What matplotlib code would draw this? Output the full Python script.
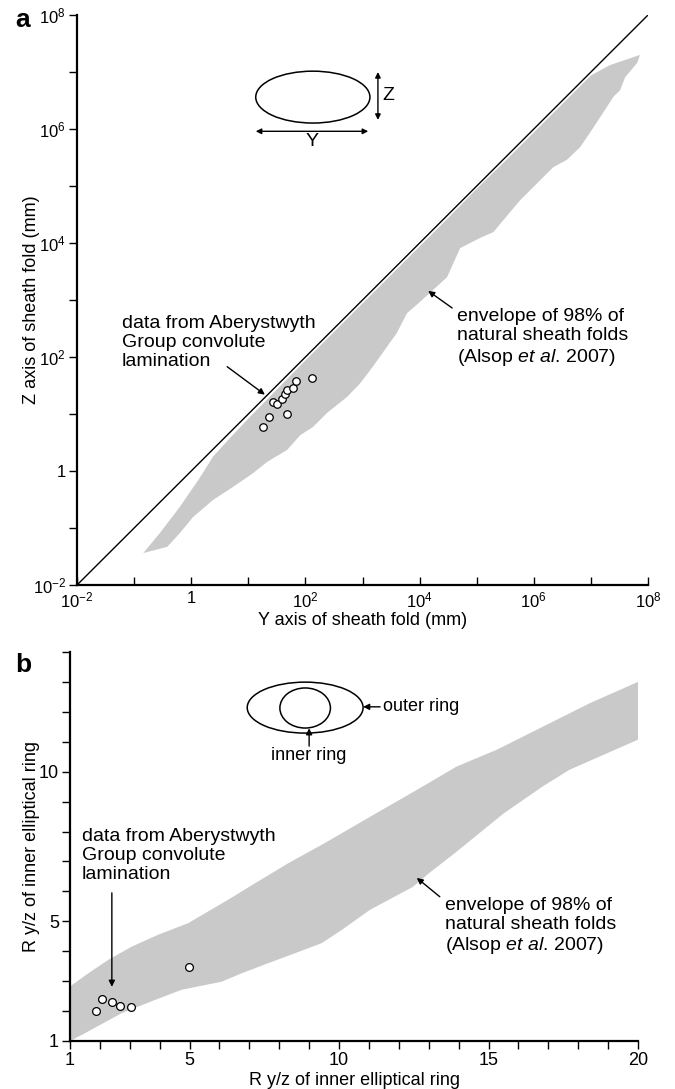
import numpy as np
import matplotlib.pyplot as plt
from matplotlib.patches import Ellipse
from matplotlib.ticker import FixedLocator, FixedFormatter, NullLocator, MultipleLocator

plt.rcParams['font.family'] = ['Liberation Sans', 'DejaVu Sans']
plt.rcParams['mathtext.fontset'] = 'custom'
plt.rcParams['mathtext.rm'] = 'Liberation Sans'
plt.rcParams['mathtext.it'] = 'Liberation Sans:italic'

# --- panel a: sheath fold Y and Z axes (mm) ---
fold_y_mm = [18, 23, 27, 32, 39, 44, 48, 61, 68, 47, 129]
fold_z_mm = [6.0, 9.0, 16, 15, 18, 22, 26, 29, 38, 10, 43]

# envelope of natural sheath folds, log10(mm)
env_a_upper_logx = [-0.84, -0.55, -0.20, 0.15, 0.38, 0.68, 1.0, 1.5, 2.0, 2.5, 3.0,
                    3.5, 4.0, 4.5, 5.0, 5.5, 6.0, 6.5, 7.0, 7.33, 7.86]
env_a_upper_logy = [-1.44, -1.09, -0.63, -0.12, 0.25, 0.58, 0.92, 1.43, 1.94, 2.44, 2.94,
                    3.44, 3.94, 4.44, 4.95, 5.44, 5.94, 6.44, 6.94, 7.12, 7.30]
env_a_lower_logx = [7.86, 7.81, 7.60, 7.51, 7.39, 7.21, 6.98, 6.81, 6.58, 6.34, 6.06,
                    5.76, 5.29, 5.06, 4.71, 4.48, 4.01, 3.78, 3.60, 3.18, 2.96, 2.73,
                    2.38, 2.13, 1.91, 1.68, 1.33, 1.08, 0.73, 0.38, 0.03, -0.20, -0.42, -0.84]
env_a_lower_logy = [7.30, 7.16, 6.91, 6.68, 6.56, 6.28, 5.93, 5.68, 5.46, 5.33, 5.05,
                    4.75, 4.19, 4.09, 3.91, 3.40, 2.97, 2.77, 2.42, 1.83, 1.54, 1.30,
                    1.02, 0.77, 0.63, 0.37, 0.16, -0.04, -0.28, -0.51, -0.81, -1.09, -1.33, -1.44]

decades = list(range(-2, 9))

# --- panel b: R y/z of rings ---
ring_inner = [1.86, 2.06, 2.39, 2.67, 3.04, 4.98]
ring_outer = [2.01, 2.40, 2.29, 2.17, 2.13, 3.48]

env_b_upper_x = [1.0, 1.61, 2.28, 3.06, 3.95, 4.96, 5.52, 6.29, 7.19, 8.30, 9.5,
                 11.26, 12.6, 13.93, 15.27, 16.83, 18.39, 20.0]
env_b_upper_y = [2.82, 3.26, 3.71, 4.15, 4.55, 4.94, 5.27, 5.72, 6.27, 6.94, 7.6,
                 8.62, 9.39, 10.17, 10.73, 11.51, 12.29, 13.0]
env_b_lower_x = [20.0, 17.7, 16.8, 15.5, 13.9, 13.0, 12.47, 11.03, 10.09, 9.42, 8.52,
                 7.63, 6.74, 6.07, 4.73, 3.84, 2.73, 1.5, 1.0]
env_b_lower_y = [11.07, 10.06, 9.5, 8.6, 7.3, 6.6, 6.15, 5.38, 4.71, 4.27, 3.93,
                 3.60, 3.26, 2.98, 2.71, 2.37, 1.93, 1.26, 1.0]

GREY = '#c9c9c9'
FS = 14

fig = plt.figure(figsize=(6.75, 10.89), dpi=100)
ax_a = fig.add_axes([0.1141, 0.4628, 0.8459, 0.5234])
ax_b = fig.add_axes([0.1037, 0.0441, 0.8415, 0.3572])

for ax in (ax_a, ax_b):
    ax.spines['top'].set_visible(False)
    ax.spines['right'].set_visible(False)
    ax.spines['left'].set_linewidth(1.6)
    ax.spines['bottom'].set_linewidth(1.6)

arrow = dict(arrowstyle='-|>', color='k', lw=1.0, mutation_scale=9, shrinkA=0, shrinkB=0)
double_arrow = dict(arrowstyle='<|-|>', color='k', lw=1.0, mutation_scale=8, shrinkA=0, shrinkB=0)

# ---------------- panel a ----------------
ax = ax_a
ax.set_xscale('log')
ax.set_yscale('log')
env_x = 10.0 ** np.array(env_a_upper_logx + env_a_lower_logx)
env_y = 10.0 ** np.array(env_a_upper_logy + env_a_lower_logy)
ax.fill(env_x, env_y, color=GREY, lw=0, zorder=1)
ax.plot([1e-2, 1e8], [1e-2, 1e8], color='k', lw=1.0, zorder=2)
ax.plot(fold_y_mm, fold_z_mm, 'o', ms=5.4, mfc='white', mec='k', mew=0.9, zorder=3)
ax.set_xlim(1e-2, 1e8)
ax.set_ylim(1e-2, 1e8)

ticks = [10.0 ** k for k in decades]
labels = []
for k in decades:
    if k % 2:
        labels.append('')
    elif k == 0:
        labels.append('1')
    else:
        labels.append(r'$\mathregular{10^{%d}}$' % k)
for axis in (ax.xaxis, ax.yaxis):
    axis.set_major_locator(FixedLocator(ticks))
    axis.set_major_formatter(FixedFormatter(labels))
    axis.set_minor_locator(NullLocator())
ax.tick_params(axis='y', direction='out', length=6, width=1, labelsize=12, pad=2)
ax.tick_params(axis='x', direction='in', length=6, width=1, labelsize=12, pad=4)
ax.set_xlabel('Y axis of sheath fold (mm)', fontsize=13, labelpad=1)
ax.set_ylabel('Z axis of sheath fold (mm)', fontsize=13)
ax.yaxis.set_label_coords(-0.064, 0.5)

ax.text(0.0788, 0.426, 'data from Aberystwyth\nGroup convolute\nlamination',
        transform=ax.transAxes, fontsize=FS, va='center', ha='left', linespacing=1.15)
ax.annotate('', xy=(10 ** 1.29, 10 ** 1.34), xytext=(10 ** 0.63, 10 ** 1.83), arrowprops=arrow)
ax.text(0.6655, 0.4333, 'envelope of 98% of\nnatural sheath folds\n(Alsop $\\it{et\\ al}$. 2007)',
        transform=ax.transAxes, fontsize=FS, va='center', ha='left', linespacing=1.15)
ax.annotate('', xy=(10 ** 4.15, 10 ** 3.16), xytext=(10 ** 4.57, 10 ** 2.86), arrowprops=arrow)

# inset sketch
ax.add_patch(Ellipse((0.413, 0.856), 0.200, 0.091, transform=ax.transAxes,
                     fill=False, ec='k', lw=1.1))
ax.annotate('', xy=(0.313, 0.796), xytext=(0.510, 0.796), xycoords='axes fraction',
            arrowprops=double_arrow)
ax.text(0.411, 0.778, 'Y', transform=ax.transAxes, fontsize=FS, ha='center', va='center')
ax.annotate('', xy=(0.527, 0.900), xytext=(0.527, 0.816), xycoords='axes fraction',
            arrowprops=double_arrow)
ax.text(0.545, 0.858, 'Z', transform=ax.transAxes, fontsize=FS, ha='center', va='center')

fig.text(15 / 675, 1 - 20 / 1089, 'a', fontsize=19, fontweight='bold', va='center', ha='left')

# ---------------- panel b ----------------
ax = ax_b
ax.fill(env_b_upper_x + env_b_lower_x, env_b_upper_y + env_b_lower_y,
        color=GREY, lw=0, zorder=1)
ax.plot(ring_inner, ring_outer, 'o', ms=5.6, mfc='white', mec='k', mew=0.9, zorder=3)
ax.set_xlim(1, 20)
ax.set_ylim(1, 14)
ax.set_xticks([1, 5, 10, 15, 20])
ax.set_yticks([1, 5, 10])
ax.xaxis.set_minor_locator(MultipleLocator(1))
ax.yaxis.set_minor_locator(MultipleLocator(1))
ax.tick_params(axis='both', which='both', direction='out', length=6, width=1)
ax.tick_params(axis='both', labelsize=13, pad=2)
ax.set_xlabel('R y/z of inner elliptical ring', fontsize=13, labelpad=2)
ax.set_ylabel('R y/z of inner elliptical ring', fontsize=13)
ax.yaxis.set_label_coords(-0.053, 0.5)

ax.text(0.0211, 0.476, 'data from Aberystwyth\nGroup convolute\nlamination',
        transform=ax.transAxes, fontsize=FS, va='center', ha='left', linespacing=1.15)
ax.annotate('', xy=(2.40, 2.81), xytext=(2.40, 5.95), arrowprops=arrow)
ax.text(0.660, 0.294, 'envelope of 98% of\nnatural sheath folds\n(Alsop $\\it{et\\ al}$. 2007)',
        transform=ax.transAxes, fontsize=FS, va='center', ha='left', linespacing=1.15)
ax.annotate('', xy=(12.6, 6.45), xytext=(13.37, 5.82), arrowprops=arrow)

# inset sketch
ax.add_patch(Ellipse((0.414, 0.857), 0.204, 0.131, transform=ax.transAxes,
                     fill=False, ec='k', lw=1.1))
ax.add_patch(Ellipse((0.414, 0.856), 0.089, 0.103, transform=ax.transAxes,
                     fill=False, ec='k', lw=1.1))
ax.annotate('', xy=(0.516, 0.859), xytext=(0.546, 0.859), xycoords='axes fraction',
            arrowprops=arrow)
ax.text(0.551, 0.859, 'outer ring', transform=ax.transAxes, fontsize=13, va='center', ha='left')
ax.annotate('', xy=(0.421, 0.804), xytext=(0.421, 0.758), xycoords='axes fraction',
            arrowprops=arrow)
ax.text(0.421, 0.733, 'inner ring', transform=ax.transAxes, fontsize=13, va='center', ha='center')

fig.text(15 / 675, 1 - 665 / 1089, 'b', fontsize=19, fontweight='bold', va='center', ha='left')

fig.savefig('out.png', dpi=100)
